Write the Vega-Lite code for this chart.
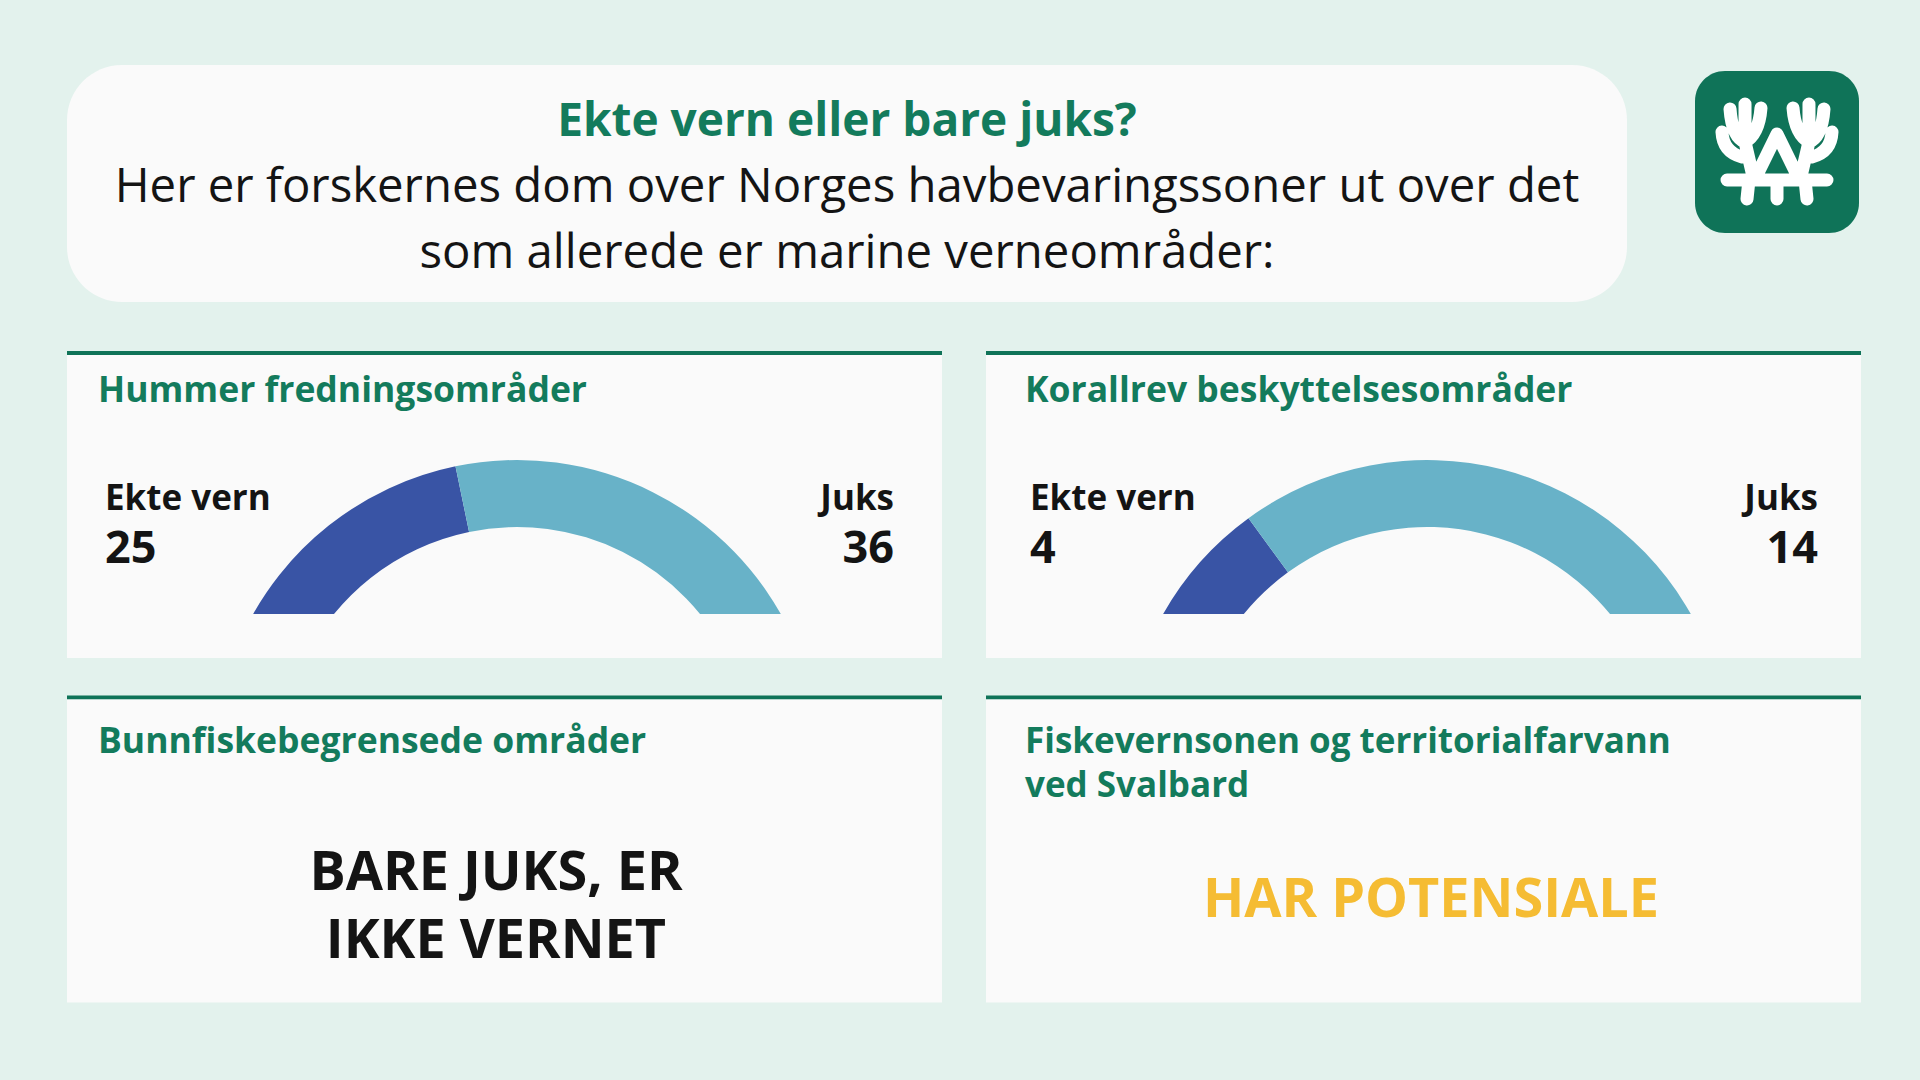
{
  "$schema": "https://vega.github.io/schema/vega-lite/v6.json",
  "background": "#e3f2ed",
  "padding": {"left": 67, "top": 65, "right": 60, "bottom": 78},
  "config": {"view": {"stroke": null}, "font": "Open Sans"},
  "datasets": {
    "hummer": [{"kategori": "Ekte vern", "antall": 25}, {"kategori": "Juks", "antall": 36}],
    "korallrev": [{"kategori": "Ekte vern", "antall": 4}, {"kategori": "Juks", "antall": 14}]
  },
  "spacing": 49,
  "vconcat": [
    {
      "spacing": 68,
      "hconcat": [
        {
          "width": 1560, "height": 237,
          "view": {"fill": "#fafafa", "cornerRadius": 55, "stroke": null},
          "data": {"values": [{}]},
          "layer": [
            {"mark": {"type": "text", "text": "Ekte vern eller bare juks?", "font": "Open Sans", "fontWeight": "bold", "fontSize": 46, "fill": "#137b5c", "align": "center", "baseline": "alphabetic", "x": 780, "y": 71}, "encoding": {}},
            {"mark": {"type": "text", "text": "Her er forskernes dom over Norges havbevaringssoner ut over det", "font": "Open Sans", "fontSize": 47.3, "fill": "#141414", "align": "center", "baseline": "alphabetic", "x": 780, "y": 137}, "encoding": {}},
            {"mark": {"type": "text", "text": "som allerede er marine verneområder:", "font": "Open Sans", "fontSize": 47.3, "fill": "#141414", "align": "center", "baseline": "alphabetic", "x": 780, "y": 203}, "encoding": {}}
          ]
        },
        {
          "spacing": 0,
          "vconcat": [
            {"width": 164, "height": 6, "data": {"values": []}, "mark": "point", "encoding": {}},
            {
              "width": 164, "height": 162,
              "view": {"fill": "#0f7358", "cornerRadius": 30, "stroke": null},
              "data": {"values": [{}]},
              "mark": {
                "type": "point",
                "shape": "M -0.417,0.333 L -0.533,-0.167 M -0.533,-0.167 Q -0.75,-0.25 -0.783,-0.717 M -0.533,-0.167 L -0.533,-0.8 M -0.533,-0.167 Q -0.3,-0.3 -0.267,-0.733 M -0.583,0.083 Q -0.9,0 -0.917,-0.333 M 0.417,0.333 L 0.533,-0.167 M 0.533,-0.167 Q 0.75,-0.25 0.783,-0.717 M 0.533,-0.167 L 0.533,-0.8 M 0.533,-0.167 Q 0.3,-0.3 0.267,-0.733 M 0.583,0.083 Q 0.9,0 0.917,-0.333 M -0.367,0.45 L 0,-0.3 L 0.367,0.45 M -0.833,0.467 L 0.833,0.467 M -0.467,0.467 L -0.5,0.783 M 0,0.467 L 0,0.783 M 0.467,0.467 L 0.5,0.783",
                "filled": false, "stroke": "#ffffff", "strokeWidth": 13, "strokeCap": "round", "strokeJoin": "round",
                "size": 14400, "opacity": 1, "x": 82, "y": 81
              },
              "encoding": {}
            }
          ]
        }
      ]
    },
    {
      "spacing": 37.5,
      "vconcat": [
        {
          "spacing": 44,
          "hconcat": [
            {
              "spacing": 0,
              "vconcat": [
                {"width": 875, "height": 4, "view": {"fill": "#0f7358", "stroke": null}, "data": {"values": []}, "mark": "point", "encoding": {}},
                {
                  "width": 875, "height": 259,
                  "view": {"fill": "#fafafa", "stroke": null},
                  "data": {"name": "hummer"},
                  "layer": [
                    {
                      "mark": {"type": "arc", "radius": 303, "radius2": 236, "clip": true, "x": 450, "y": 408},
                      "encoding": {
                        "theta": {"field": "antall", "type": "quantitative", "stack": true, "scale": {"range": [-1.134, 1.134]}},
                        "color": {"field": "kategori", "type": "nominal", "scale": {"domain": ["Ekte vern", "Juks"], "range": ["#3954a5", "#68b2c8"]}, "legend": null}
                      }
                    },
                    {"data": {"values": [{}]}, "mark": {"type": "text", "text": "Hummer fredningsområder", "fontWeight": "bold", "fontSize": 35.5, "fill": "#137b5c", "align": "left", "baseline": "alphabetic", "x": 31, "y": 47}, "encoding": {}},
                    {"transform": [{"filter": "datum.kategori === 'Ekte vern'"}], "mark": {"type": "text", "fontWeight": "bold", "fontSize": 35, "fill": "#141414", "align": "left", "baseline": "alphabetic", "x": 38, "y": 155}, "encoding": {"text": {"field": "kategori"}}},
                    {"transform": [{"filter": "datum.kategori === 'Ekte vern'"}], "mark": {"type": "text", "fontWeight": "bold", "fontSize": 45, "fill": "#141414", "align": "left", "baseline": "alphabetic", "x": 38, "y": 208}, "encoding": {"text": {"field": "antall", "type": "quantitative"}}},
                    {"transform": [{"filter": "datum.kategori === 'Juks'"}], "mark": {"type": "text", "fontWeight": "bold", "fontSize": 35, "fill": "#141414", "align": "right", "baseline": "alphabetic", "x": 827, "y": 155}, "encoding": {"text": {"field": "kategori"}}},
                    {"transform": [{"filter": "datum.kategori === 'Juks'"}], "mark": {"type": "text", "fontWeight": "bold", "fontSize": 45, "fill": "#141414", "align": "right", "baseline": "alphabetic", "x": 827, "y": 208}, "encoding": {"text": {"field": "antall", "type": "quantitative"}}}
                  ]
                },
                {"width": 875, "height": 44, "view": {"fill": "#fafafa", "stroke": null}, "data": {"values": []}, "mark": "point", "encoding": {}}
              ]
            },
            {
              "spacing": 0,
              "vconcat": [
                {"width": 875, "height": 4, "view": {"fill": "#0f7358", "stroke": null}, "data": {"values": []}, "mark": "point", "encoding": {}},
                {
                  "width": 875, "height": 259,
                  "view": {"fill": "#fafafa", "stroke": null},
                  "data": {"name": "korallrev"},
                  "layer": [
                    {
                      "mark": {"type": "arc", "radius": 303, "radius2": 236, "clip": true, "x": 441, "y": 408},
                      "encoding": {
                        "theta": {"field": "antall", "type": "quantitative", "stack": true, "scale": {"range": [-1.134, 1.134]}},
                        "color": {"field": "kategori", "type": "nominal", "scale": {"domain": ["Ekte vern", "Juks"], "range": ["#3954a5", "#68b2c8"]}, "legend": null}
                      }
                    },
                    {"data": {"values": [{}]}, "mark": {"type": "text", "text": "Korallrev beskyttelsesområder", "fontWeight": "bold", "fontSize": 35.5, "fill": "#137b5c", "align": "left", "baseline": "alphabetic", "x": 39, "y": 47}, "encoding": {}},
                    {"transform": [{"filter": "datum.kategori === 'Ekte vern'"}], "mark": {"type": "text", "fontWeight": "bold", "fontSize": 35, "fill": "#141414", "align": "left", "baseline": "alphabetic", "x": 44, "y": 155}, "encoding": {"text": {"field": "kategori"}}},
                    {"transform": [{"filter": "datum.kategori === 'Ekte vern'"}], "mark": {"type": "text", "fontWeight": "bold", "fontSize": 45, "fill": "#141414", "align": "left", "baseline": "alphabetic", "x": 44, "y": 208}, "encoding": {"text": {"field": "antall", "type": "quantitative"}}},
                    {"transform": [{"filter": "datum.kategori === 'Juks'"}], "mark": {"type": "text", "fontWeight": "bold", "fontSize": 35, "fill": "#141414", "align": "right", "baseline": "alphabetic", "x": 832, "y": 155}, "encoding": {"text": {"field": "kategori"}}},
                    {"transform": [{"filter": "datum.kategori === 'Juks'"}], "mark": {"type": "text", "fontWeight": "bold", "fontSize": 45, "fill": "#141414", "align": "right", "baseline": "alphabetic", "x": 832, "y": 208}, "encoding": {"text": {"field": "antall", "type": "quantitative"}}}
                  ]
                },
                {"width": 875, "height": 44, "view": {"fill": "#fafafa", "stroke": null}, "data": {"values": []}, "mark": "point", "encoding": {}}
              ]
            }
          ]
        },
        {
          "spacing": 44,
          "hconcat": [
            {
              "spacing": 0,
              "vconcat": [
                {"width": 875, "height": 4, "view": {"fill": "#0f7358", "stroke": null}, "data": {"values": []}, "mark": "point", "encoding": {}},
                {
                  "width": 875, "height": 303,
                  "view": {"fill": "#fafafa", "stroke": null},
                  "data": {"values": [{}]},
                  "layer": [
                    {"mark": {"type": "text", "text": "Bunnfiskebegrensede områder", "fontWeight": "bold", "fontSize": 35.5, "fill": "#137b5c", "align": "left", "baseline": "alphabetic", "x": 31, "y": 53}, "encoding": {}},
                    {"mark": {"type": "text", "text": "BARE JUKS, ER", "fontWeight": "bold", "fontSize": 54, "fill": "#141414", "align": "center", "baseline": "alphabetic", "x": 429, "y": 190}, "encoding": {}},
                    {"mark": {"type": "text", "text": "IKKE VERNET", "fontWeight": "bold", "fontSize": 54, "fill": "#141414", "align": "center", "baseline": "alphabetic", "x": 429, "y": 258}, "encoding": {}}
                  ]
                }
              ]
            },
            {
              "spacing": 0,
              "vconcat": [
                {"width": 875, "height": 4, "view": {"fill": "#0f7358", "stroke": null}, "data": {"values": []}, "mark": "point", "encoding": {}},
                {
                  "width": 875, "height": 303,
                  "view": {"fill": "#fafafa", "stroke": null},
                  "data": {"values": [{}]},
                  "layer": [
                    {"mark": {"type": "text", "text": "Fiskevernsonen og territorialfarvann", "fontWeight": "bold", "fontSize": 35, "fill": "#137b5c", "align": "left", "baseline": "alphabetic", "x": 39, "y": 53}, "encoding": {}},
                    {"mark": {"type": "text", "text": "ved Svalbard", "fontWeight": "bold", "fontSize": 35, "fill": "#137b5c", "align": "left", "baseline": "alphabetic", "x": 39, "y": 97}, "encoding": {}},
                    {"mark": {"type": "text", "text": "HAR POTENSIALE", "fontWeight": "bold", "fontSize": 54, "fill": "#f5bc33", "align": "center", "baseline": "alphabetic", "x": 445, "y": 217}, "encoding": {}}
                  ]
                }
              ]
            }
          ]
        }
      ]
    }
  ]
}
